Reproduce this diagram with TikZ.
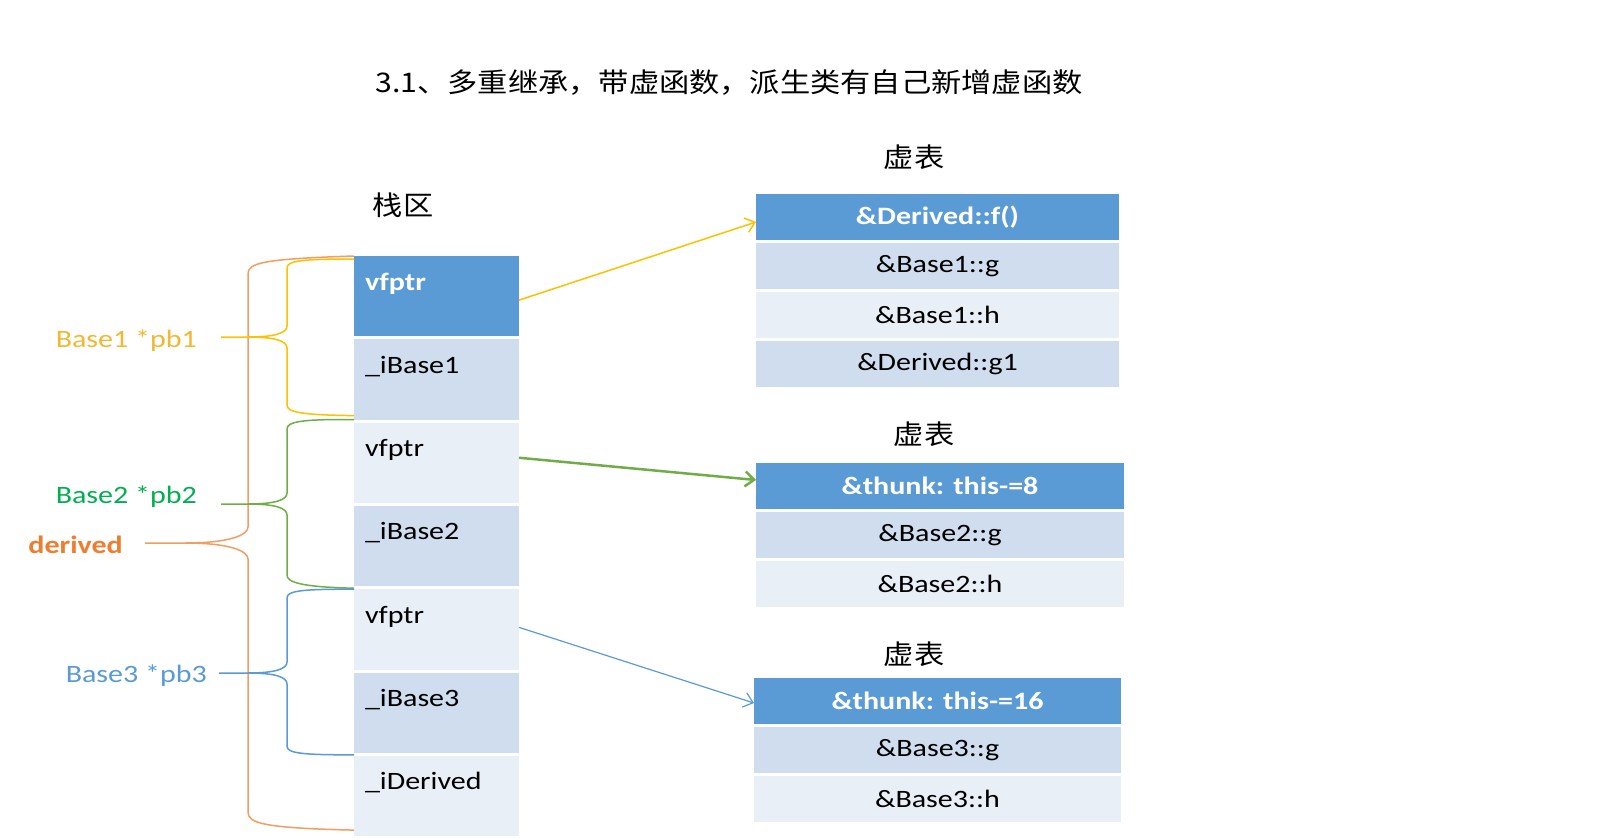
\documentclass[tikz,border=0pt]{standalone}
\usepackage{fontspec}
\setmainfont{Carlito}[FakeStretch=1.2]
\newfontfamily\cjk{Noto Sans CJK SC}[FakeStretch=1.12]
\usetikzlibrary{arrows.meta,positioning}
\definecolor{hdblue}{HTML}{5B9BD5}
\definecolor{midblue}{HTML}{CFDDEE}
\definecolor{paleblue}{HTML}{E9EFF7}
\definecolor{goldline}{HTML}{FFC000}
\definecolor{goldtext}{HTML}{F2B833}
\definecolor{greenline}{HTML}{70AD47}
\definecolor{greentext}{HTML}{00B050}
\definecolor{drvorange}{HTML}{ED7D31}

\begin{document}
\begin{tikzpicture}[x=1pt,y=1pt,>={Straight Barb[length=9pt,width=15pt]},node distance=3pt,
    every node/.style={inner sep=0pt,font=\fontsize{25}{30}\selectfont}]
  \tikzset{cell/.style={text width=143pt,align=left,inner xsep=11pt,inner ysep=0pt,
      text height=34pt,text depth=46.3pt,outer sep=0pt},
    slot/.style={minimum width=#1,minimum height=46pt,inner sep=0pt,outer sep=0pt},
    head/.style={fill=hdblue,text=white,font=\fontsize{25}{30}\selectfont\bfseries},
    zh/.style={font=\cjk\fontsize{27}{32}\selectfont},
    bracel/.style={line width=1.5pt}}
  \useasboundingbox (0,0) rectangle (1600,-838);
  \fill[white] (0,0) rectangle (1600,-838);

  \node[zh] (title) at (729,-83) {3.1、多重继承，带虚函数，派生类有自己新增虚函数};
  \node[zh] (stk) at (403,-205) {栈区};

  % stack
  \node[cell,head,anchor=north west] (vp1) at (354,-256) {vfptr};
  \node[cell,fill=midblue,below=of vp1]  (ib1) {\_iBase1};
  \node[cell,fill=paleblue,below=of ib1] (vp2) {vfptr};
  \node[cell,fill=midblue,below=of vp2]  (ib2) {\_iBase2};
  \node[cell,fill=paleblue,below=of ib2] (vp3) {vfptr};
  \node[cell,fill=midblue,below=of vp3]  (ib3) {\_iBase3};
  \node[cell,fill=paleblue,below=of ib3] (idv) {\_iDerived};

  % virtual tables
  \node[zh] (vtl1) at (914,-157) {虚表};
  \node[slot=363pt,head,anchor=north west] (vt1) at (756,-194) {\&Derived::f()};
  \node[slot=363pt,fill=midblue,below=of vt1]   (vt1a) {\&Base1::g};
  \node[slot=363pt,fill=paleblue,below=of vt1a] (vt1b) {\&Base1::h};
  \node[slot=363pt,fill=midblue,below=of vt1b]  (vt1c) {\&Derived::g1};

  \node[zh] (vtl2) at (924,-434) {虚表};
  \node[slot=368pt,head,anchor=north west] (vt2) at (756,-463) {\&thunk: this-=8};
  \node[slot=368pt,fill=midblue,below=of vt2]   (vt2a) {\&Base2::g};
  \node[slot=368pt,fill=paleblue,below=of vt2a] (vt2b) {\&Base2::h};

  \node[zh] (vtl3) at (914,-654) {虚表};
  \node[slot=367pt,head,anchor=north west] (vt3) at (754,-678) {\&thunk: this-=16};
  \node[slot=367pt,fill=midblue,below=of vt3]   (vt3a) {\&Base3::g};
  \node[slot=367pt,fill=paleblue,below=of vt3a] (vt3b) {\&Base3::h};

  % pointers
  \node[anchor=base east,text=goldtext]  (pb1) at (197,-347) {Base1 *pb1};
  \node[anchor=base east,text=greentext] (pb2) at (197,-503) {Base2 *pb2};
  \node[anchor=base east,text=drvorange,font=\fontsize{25}{30}\selectfont\bfseries] (drv) at (123,-553) {derived};
  \node[anchor=base east,text=hdblue]    (pb3) at (207,-682) {Base3 *pb3};

  % braces
  \draw[bracel,drvorange!75] (drv.base east) ++(22,10) -- ++(40,0) coordinate (k0)
    .. controls +(45,0) and (248,-535) .. (248,-527) -- (248,-274)
    .. controls (248,-263) and (262,-259) .. (vp1.north west);
  \draw[bracel,drvorange!75] (k0) .. controls +(45,0) and (248,-551) .. (248,-559) -- (248,-812)
    .. controls (248,-823) and (262,-828) .. ([yshift=6pt]idv.south west);

  \draw[bracel,goldline] (pb1.base east) ++(24,10) -- ++(27,0) coordinate (k1)
    .. controls +(27,0) and (287,-333) .. (287,-326) -- (287,-268)
    .. controls (287,-261) and (300,-259) .. ([yshift=-3pt]vp1.north west);
  \draw[bracel,goldline] (k1) .. controls +(27,0) and (287,-341) .. (287,-348) -- (287,-405)
    .. controls (287,-412) and (300,-415) .. ([yshift=4pt]ib1.south west);

  \draw[bracel,greenline] (pb2.base east) ++(24,-1) -- ++(27,0) coordinate (k2)
    .. controls +(27,0) and (287,-500) .. (287,-493) -- (287,-429)
    .. controls (287,-422) and (300,-419) .. ([yshift=3pt]vp2.north west);
  \draw[bracel,greenline] (k2) .. controls +(27,0) and (287,-508) .. (287,-515) -- (287,-575)
    .. controls (287,-582) and (300,-587) .. ([yshift=-2pt]ib2.south west);

  \draw[bracel,hdblue] (pb3.base east) ++(12,9) -- ++(29,0) coordinate (k3)
    .. controls +(27,0) and (287,-669) .. (287,-662) -- (287,-598)
    .. controls (287,-591) and (300,-589) .. (vp3.north west);
  \draw[bracel,hdblue] (k3) .. controls +(27,0) and (287,-677) .. (287,-684) -- (287,-746)
    .. controls (287,-753) and (300,-755) .. ([yshift=-2pt]ib3.south west);

  % vfptr -> vtable
  \path[->,goldline,line width=1.5pt] ([yshift=-4pt]vp1.east) edge ([yshift=-5pt]vt1.west);
  \path[->,greenline,line width=2.5pt] ([yshift=5pt]vp2.east) edge ([yshift=6pt]vt2.west);
  \path[->,hdblue,line width=1.2pt] ([yshift=2pt]vp3.east) edge ([yshift=-2pt]vt3.west);
\end{tikzpicture}
\end{document}
